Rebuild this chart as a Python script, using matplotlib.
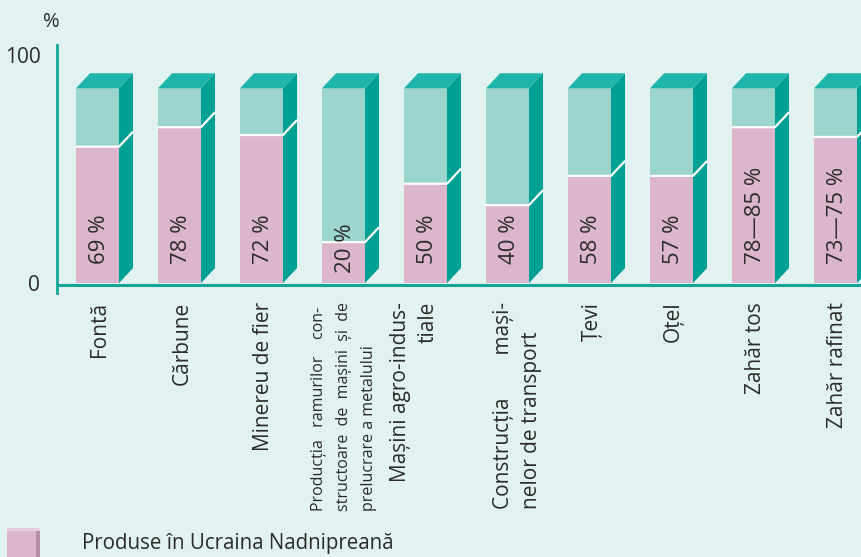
import matplotlib
matplotlib.use("Agg")
import matplotlib.pyplot as plt
from matplotlib.patches import Polygon, Rectangle

plt.rcParams["font.family"] = ["Open Sans", "DejaVu Sans"]

# ---- data ----
categories = [
    "Fontă",
    "Cărbune",
    "Minereu de fier",
    "Producția   ramurilor    con-\nstructoare  de  mașini  și  de\nprelucrare a metalului",
    "Mașini agro-indus-\ntiale",
    "Construcția        mași-\nnelor de transport",
    "Țevi",
    "Oțel",
    "Zahăr tos",
    "Zahăr rafinat",
]
value_labels = ["69 %", "78 %", "72 %", "20 %", "50 %", "40 %",
                "58 %", "57 %", "78—85 %", "73—75 %"]
pink_height = [70, 80, 76, 21, 51, 40, 55, 55, 80, 75]   # drawn share of the bar
legend_label = "Produse în Ucraina Nadnipreană"

# ---- styles ----
BG = "#e2f2f1"
PINK = "#dbb6cc"
LIGHT = "#9cd4ce"
SIDE = "#00a194"
TOP = "#20b5aa"
AXIS = "#13a596"
TXT = "#2b2b2b"

W, H = 862, 557
fig = plt.figure(figsize=(W / 100, H / 100), dpi=100, facecolor=BG)
ax = fig.add_axes([57 / W, (H - 293) / H, (W - 57) / W, (293 - 45) / H])
ax.set_facecolor(BG)
ax.set_xlim(-0.494, 9.323)
ax.set_ylim(-5.1, 122.2)

half = 0.262   # half bar width (x units)
dx, dy = 0.171, 7.7  # 3d depth

for i, h in enumerate(pink_height):
    x0, x1 = i - half, i + half
    ax.add_patch(Rectangle((x0, 0), x1 - x0, h, facecolor=PINK, edgecolor="none"))
    ax.add_patch(Rectangle((x0, h), x1 - x0, 100 - h, facecolor=LIGHT, edgecolor="none"))
    ax.add_patch(Polygon([(x1, 0), (x1 + dx, dy), (x1 + dx, 100 + dy), (x1, 100)],
                         closed=True, facecolor=SIDE, edgecolor="none"))
    ax.add_patch(Polygon([(x0, 100), (x0 + dx, 100 + dy), (x1 + dx, 100 + dy), (x1, 100)],
                         closed=True, facecolor=TOP, edgecolor="none"))
    ax.plot([x0, x1, x1 + dx], [h, h, h + dy], color="white", lw=1.6,
            solid_capstyle="butt")
    ty = 5.1 if i == 3 else 9.8
    ax.text(i + 0.03, ty, value_labels[i], rotation=90, ha="center", va="bottom",
            fontsize=16, color=TXT)

# category labels under the axis
label_shift = [0.03, 0.03, 0.02, 0.0, -0.14, 0.12, 0.03, 0.02, 0.02, 0.02]
for i, lab in enumerate(categories):
    if i == 3:
        ax.text(i + label_shift[i], -9.6, lab, rotation=90, ha="center", va="top",
                fontsize=11.5, color=TXT, linespacing=1.75, multialignment="left",
                clip_on=False)
    elif i == 4:
        ax.text(i + label_shift[i], -9.6, lab, rotation=90, ha="center", va="top",
                fontsize=15, color=TXT, linespacing=1.4, multialignment="right",
                clip_on=False)
    else:
        ax.text(i + label_shift[i], -9.6, lab, rotation=90, ha="center", va="top",
                fontsize=15, color=TXT, linespacing=1.4, multialignment="left",
                clip_on=False)

# axes lines
for s in ["top", "right", "bottom"]:
    ax.spines[s].set_visible(False)
ax.spines["left"].set_color(AXIS)
ax.spines["left"].set_linewidth(2)
ax.axhline(-1.2, color=AXIS, lw=2.2)
ax.set_xticks([])
ax.set_yticks([0, 117.1])
ax.set_yticklabels(["0", "100"])
ax.tick_params(axis="y", length=0, pad=12, labelsize=15, labelcolor=TXT)
fig.text(51 / W, 1 - 22 / H, "%", ha="center", va="center", fontsize=14.5, color=TXT)

# legend
fig.add_artist(Rectangle((7 / W, 0), 33 / W, 29 / H, transform=fig.transFigure,
                         facecolor=PINK, edgecolor="none"))
fig.add_artist(Rectangle((36 / W, 0), 4 / W, 27 / H, transform=fig.transFigure,
                         facecolor="#b58fa5", edgecolor="none"))
fig.add_artist(Rectangle((7 / W, 26 / H), 33 / W, 3 / H, transform=fig.transFigure,
                         facecolor="#e6cbdb", edgecolor="none"))
fig.text(82 / W, 1 - 544 / H, legend_label, ha="left", va="center",
         fontsize=14.8, color=TXT)

fig.savefig("out.png", dpi=100, facecolor=BG)
